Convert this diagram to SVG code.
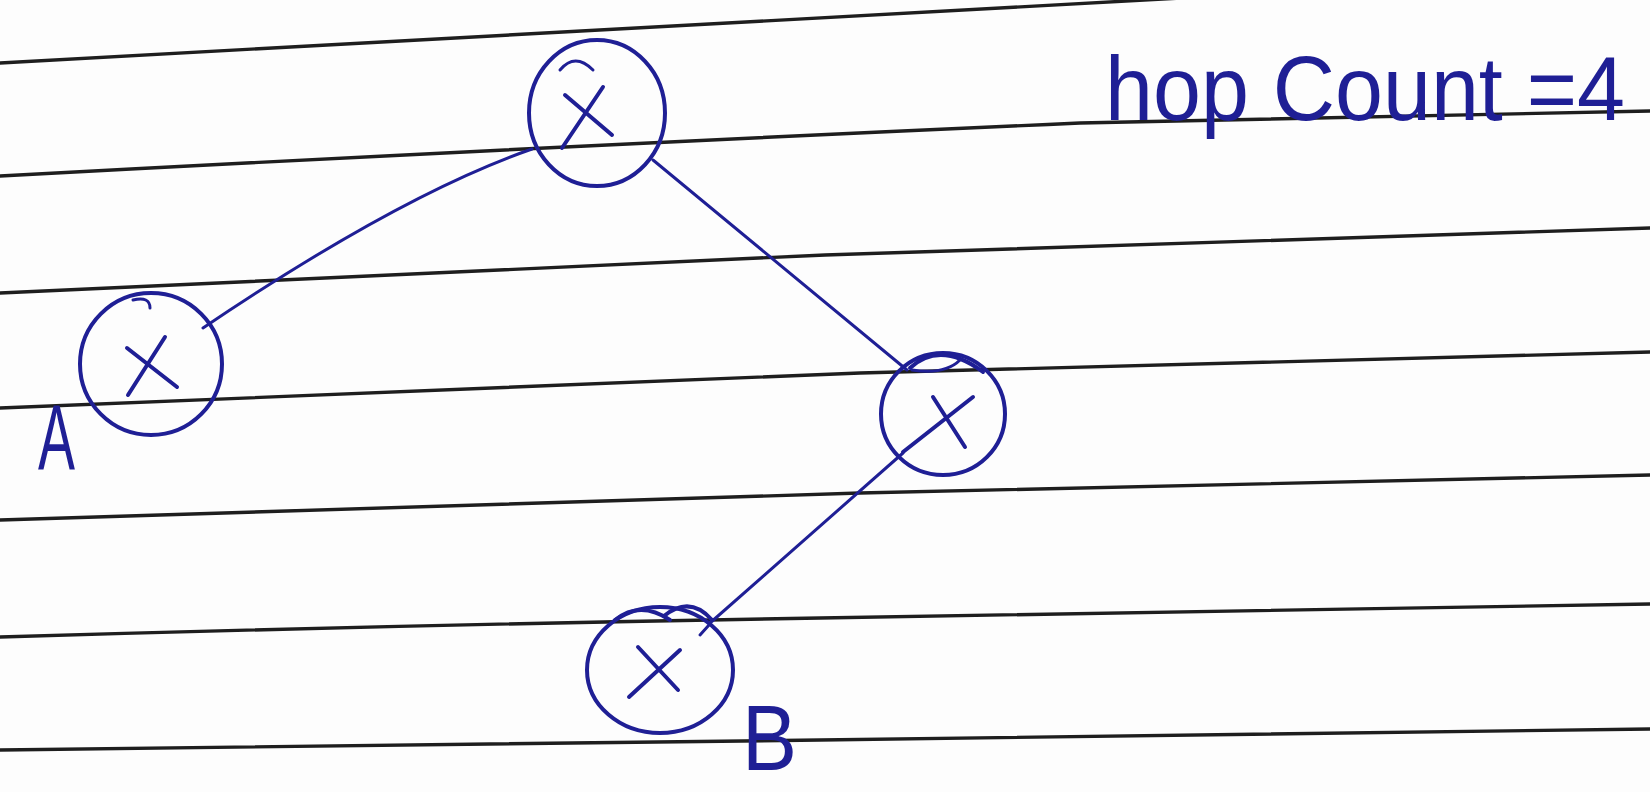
<svg xmlns="http://www.w3.org/2000/svg" width="1650" height="792" viewBox="0 0 1650 792">
<style>
.rule{fill:none;stroke:#1e1e1e;stroke-width:3.4;stroke-linecap:round}
.ink{fill:none;stroke:#1f1f95;stroke-width:4;stroke-linecap:round;stroke-linejoin:round}
.conn{fill:none;stroke:#1f1f95;stroke-width:3;stroke-linecap:round}
.thin{fill:none;stroke:#1f1f95;stroke-width:3;stroke-linecap:round}
.lbl{font-family:"Liberation Sans",Arial,sans-serif;fill:#1f1f95}
</style>
<rect x="0" y="0" width="1650" height="792" fill="#fdfdfd"/>
<g id="paper-lines">
<path class="rule" d="M0,63 Q600,28 1200,-3"/>
<path class="rule" d="M0,176 Q560,146 1080,123 Q1400,115 1650,111"/>
<path class="rule" d="M0,293 Q500,270 825,255 Q1250,240 1650,228"/>
<path class="rule" d="M0,408 Q400,392 860,373 Q1300,360 1650,352"/>
<path class="rule" d="M0,520 Q450,505 860,493 Q1300,482 1650,475"/>
<path class="rule" d="M0,637 Q400,625 820,618 Q1300,610 1650,604"/>
<path class="rule" d="M0,750 Q450,743 820,740 Q1300,734 1650,729"/>
</g>
<g id="connectors">
<path class="conn" d="M532,149 Q400,195 203,328"/>
<path class="conn" d="M653,160 L907,370"/>
<path class="conn" d="M903,453 L710,623"/>
</g>
<g id="node-top">
<ellipse class="ink" cx="597" cy="113" rx="68" ry="73"/>
<path class="thin" d="M560,70 Q575,52 593,70"/>
<path class="ink" d="M565,95 L612,135"/>
<path class="ink" d="M603,87 L562,148"/>
</g>
<g id="node-a">
<ellipse class="ink" cx="151" cy="364" rx="71" ry="71"/>
<path class="thin" d="M133,300 Q150,296 150,308"/>
<path class="ink" d="M127,348 L177,387"/>
<path class="ink" d="M165,337 L128,395"/>
</g>
<g id="node-right">
<ellipse class="ink" cx="943" cy="414" rx="62" ry="61"/>
<path class="ink" d="M910,368 Q940,340 983,372"/>
<path class="thin" d="M912,370 Q945,375 960,360"/>
<path class="ink" d="M933,397 L965,447"/>
<path class="ink" d="M973,397 L903,452"/>
</g>
<g id="node-b">
<ellipse class="ink" cx="660" cy="670" rx="73" ry="63"/>
<path class="ink" d="M615,620 Q640,600 670,620"/>
<path class="ink" d="M664,616 Q690,595 712,620"/>
<path class="ink" d="M638,647 L678,690"/>
<path class="ink" d="M680,650 L629,697"/>
<path class="thin" d="M709,625 L700,635"/>
</g>
<g id="labels">
<text class="lbl" x="38" y="470" font-size="92" textLength="37" lengthAdjust="spacingAndGlyphs">A</text>
<text class="lbl" x="742" y="770" font-size="92" textLength="55" lengthAdjust="spacingAndGlyphs">B</text>
<text class="lbl" x="1105" y="120" font-size="90" textLength="520" lengthAdjust="spacingAndGlyphs">hop Count =4</text>
</g>
</svg>
